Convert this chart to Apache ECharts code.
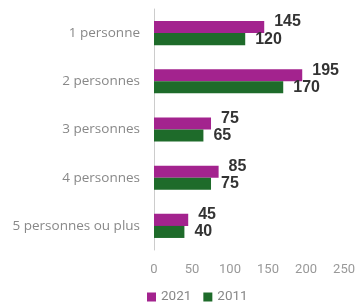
<!DOCTYPE html>
<html>
<head>
<meta charset="utf-8">
<script src="https://cdn.jsdelivr.net/npm/echarts@6/dist/echarts.min.js"></script>
<style>
  html, body { margin: 0; padding: 0; background: #fff; }
  #chart { width: 358px; height: 307px; }
</style>
</head>
<body>
<div id="chart"></div>
<script>
const categories = ['1 personne', '2 personnes', '3 personnes', '4 personnes', '5 personnes ou plus'];
const values2021 = [145, 195, 75, 85, 45];
const values2011 = [120, 170, 65, 75, 40];
const xTicks = [0, 50, 100, 150, 200, 250];

const chart = echarts.init(document.getElementById('chart'));
const font = '"Open Sans", Roboto, sans-serif';

const option = {
  animation: false,
  textStyle: { fontFamily: font },
  legend: {
    bottom: -2,
    left: 142,
    itemWidth: 9,
    itemHeight: 9,
    itemGap: 12,
    itemTextGap: 3,
    icon: 'rect',
    textStyle: { color: '#888', fontSize: 13.5, fontFamily: 'Roboto, sans-serif' },
    data: ['2021', '2011']
  },
  grid: { left: 154, right: 13, top: 9, bottom: 57 },
  xAxis: {
    type: 'value',
    min: xTicks[0],
    max: xTicks[xTicks.length - 1],
    interval: 50,
    axisLine: { show: false },
    axisTick: { show: false },
    splitLine: { show: false },
    axisLabel: { color: '#999', fontSize: 13, margin: 13, fontFamily: 'Roboto, sans-serif' }
  },
  yAxis: {
    type: 'category',
    inverse: true,
    data: categories,
    axisLine: { show: true, lineStyle: { color: '#ccc' } },
    axisTick: { show: false },
    axisLabel: { color: '#888', fontSize: 13.5, margin: 14, fontFamily: font }
  },
  series: [
    {
      name: '2021',
      type: 'bar',
      data: values2021,
      barGap: '0%',
      barCategoryGap: '50%',
      itemStyle: { color: '#a3238e' },
      label: {
        show: true, position: 'right', distance: 10, offset: [0, -5],
        color: '#333', fontWeight: 'bold', fontSize: 16, fontFamily: '"Liberation Sans", Arial, sans-serif'
      }
    },
    {
      name: '2011',
      type: 'bar',
      data: values2011,
      itemStyle: { color: '#1e6b2a' },
      label: {
        show: true, position: 'right', distance: 10,
        color: '#333', fontWeight: 'bold', fontSize: 16, fontFamily: '"Liberation Sans", Arial, sans-serif'
      }
    }
  ]
};

chart.setOption(option);
</script>
</body>
</html>
